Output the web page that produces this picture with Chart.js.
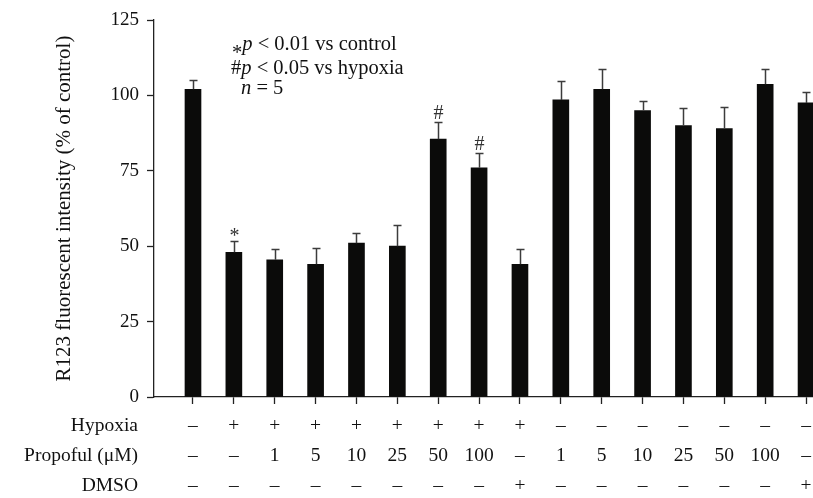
<!DOCTYPE html>
<html>
<head>
<meta charset="utf-8">
<script src="https://cdn.jsdelivr.net/npm/chart.js@4.4.0/dist/chart.umd.min.js"></script>
<style>
body { margin: 0; background: #fff; }
</style>
</head>
<body>
<canvas id="mycanvas" width="813" height="498"></canvas>
<script>
// R123 fluorescence, % of control (mean + SD)
var values = [102, 48, 45.5, 44, 51, 50, 85.5, 76, 44, 98.5, 102, 95, 90, 89, 103.7, 97.5];
var errors = [3, 3.7, 3.5, 5.5, 3.5, 7, 5.7, 4.8, 5, 6.3, 6.8, 3.3, 5.8, 7, 5, 3.5];
var marks = ['', '*', '', '', '', '', '#', '#', '', '', '', '', '', '', '', ''];

// condition table under the bars
var hypoxia = ['–', '+', '+', '+', '+', '+', '+', '+', '+', '–', '–', '–', '–', '–', '–', '–'];
var propofol = ['–', '–', '1', '5', '10', '25', '50', '100', '–', '1', '5', '10', '25', '50', '100', '–'];
var dmso = ['–', '–', '–', '–', '–', '–', '–', '–', '+', '–', '–', '–', '–', '–', '–', '+'];
var rowLabels = ['Hypoxia', 'Propoful (μM)', 'DMSO'];

var yMin = 0, yMax = 125, yStep = 25;

var FONT = 'Liberation Serif';
var INK = '#111';
var TICK_LEN = 7, TICK_PAD = 7, ROW_H = 30;

var extras = {
    id: 'extras',
    afterDatasetsDraw: function(chart) {
        var ctx = chart.ctx;
        var xs = chart.scales.x, ys = chart.scales.y;
        ctx.save();

        // error bars (upper only) and significance marks
        ctx.strokeStyle = '#3c3c3c';
        ctx.lineWidth = 1.5;
        for (var i = 0; i < values.length; i++) {
            var px = Math.round(xs.getPixelForValue(i)) + 0.5;
            var top = ys.getPixelForValue(values[i]);
            var et = Math.round(ys.getPixelForValue(values[i] + errors[i])) + 0.5;
            ctx.beginPath();
            ctx.moveTo(px, top);
            ctx.lineTo(px, et);
            ctx.moveTo(px - 4, et);
            ctx.lineTo(px + 4, et);
            ctx.stroke();

            if (marks[i]) {
                ctx.fillStyle = '#333';
                ctx.font = '20px "' + FONT + '"';
                ctx.textAlign = 'center';
                ctx.textBaseline = 'alphabetic';
                var off = marks[i] === '*' ? 0 : -4;
                ctx.fillText(marks[i], px, et + off);
            }
        }

        // row labels of the table
        ctx.fillStyle = INK;
        ctx.font = '19.5px "' + FONT + '"';
        ctx.textAlign = 'right';
        ctx.textBaseline = 'middle';
        for (var r = 0; r < rowLabels.length; r++) {
            ctx.fillText(rowLabels[r], 138, xs.top + TICK_LEN + TICK_PAD + ROW_H * (r + 0.5));
        }

        // note in the top left
        ctx.textAlign = 'left';
        ctx.textBaseline = 'alphabetic';
        drawRuns(ctx, 232, 50, [['*', '', 59], ['p', 'italic '], [' < 0.01 vs control', '']]);
        drawRuns(ctx, 231, 74, [['#', ''], ['p', 'italic '], [' < 0.05 vs hypoxia', '']]);
        drawRuns(ctx, 241, 94, [['n', 'italic '], [' = 5', '']]);

        ctx.restore();
    }
};

function drawRuns(ctx, x, y, runs) {
    for (var k = 0; k < runs.length; k++) {
        ctx.font = runs[k][1] + '20.5px "' + FONT + '"';
        ctx.fillText(runs[k][0], x, runs[k][2] || y);
        x += ctx.measureText(runs[k][0]).width;
    }
}

var ctx = document.getElementById('mycanvas');

var barChart = new Chart(ctx, {
    type: 'bar',
    data: {
        datasets: [{
            data: values.map(function(v, i) { return { x: i, y: v }; }),
            backgroundColor: '#0b0b0a',
            borderWidth: 0,
            barThickness: 16
        }]
    },
    options: {
        responsive: false,
        animation: false,
        layout: { padding: { left: 52, top: 20, right: 0, bottom: 0 } },
        plugins: {
            legend: { display: false },
            tooltip: { enabled: false }
        },
        scales: {
            x: {
                type: 'linear',
                offset: false,
                min: -0.954,
                max: 15.17,
                afterBuildTicks: function(s) {
                    s.ticks = values.map(function(v, i) { return { value: i }; });
                },
                afterFit: function(s) {
                    s.height = 101;
                    s.paddingLeft = 0;
                    s.paddingRight = 0;
                },
                grid: {
                    offset: false,
                    drawOnChartArea: false,
                    drawTicks: true,
                    tickLength: TICK_LEN,
                    tickColor: '#222',
                    tickWidth: 1.3
                },
                border: { color: '#222', width: 1.3 },
                ticks: {
                    autoSkip: false,
                    maxRotation: 0,
                    padding: TICK_PAD,
                    color: INK,
                    font: { family: FONT, size: 19.5, lineHeight: ROW_H / 19.5 },
                    callback: function(value, index) {
                        return [hypoxia[index], propofol[index], dmso[index]];
                    }
                }
            },
            y: {
                min: yMin,
                max: yMax,
                afterFit: function(s) { s.width = 102; },
                grid: {
                    drawOnChartArea: false,
                    drawTicks: true,
                    tickLength: TICK_LEN,
                    tickColor: '#222',
                    tickWidth: 1.3
                },
                border: { color: '#222', width: 1.3 },
                ticks: {
                    stepSize: yStep,
                    padding: 8,
                    color: INK,
                    font: { family: FONT, size: 19 }
                },
                title: {
                    display: true,
                    text: 'R123 fluorescent intensity (% of control)',
                    color: INK,
                    padding: 0,
                    font: { family: FONT, size: 21 }
                }
            }
        }
    },
    plugins: [extras]
});
</script>
</body>
</html>
